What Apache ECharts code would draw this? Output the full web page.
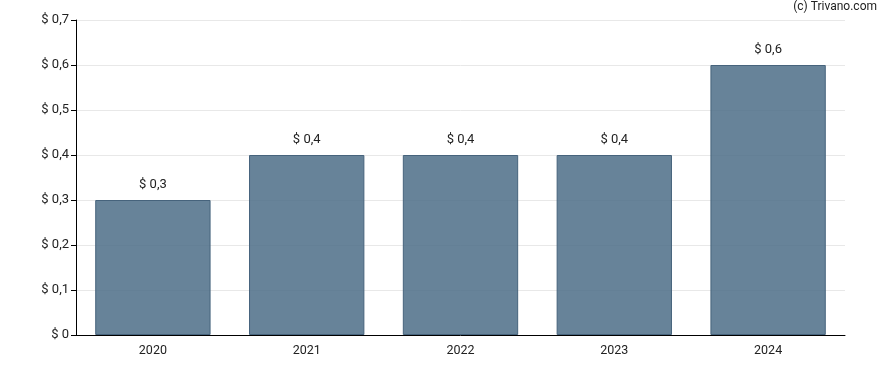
<!DOCTYPE html>
<html><head><meta charset="utf-8">
<script src="https://cdn.jsdelivr.net/npm/echarts@6/dist/echarts.min.js"></script>
<style>html,body{margin:0;padding:0;background:#fff}#c{width:888px;height:370px}</style>
</head><body><div id="c"></div>
<script>
const categories = ['2020','2021','2022','2023','2024'];
const values = [0.3, 0.4, 0.4, 0.4, 0.6];
const yTicks = [0,0.1,0.2,0.3,0.4,0.5,0.6,0.7];
const fmt = v => '$ ' + String(Math.round(v*10)/10).replace('.', ',');
const chart = echarts.init(document.getElementById('c'), null, {renderer:'canvas'});
chart.setOption({
  animation:false,
  backgroundColor:'#fff',
  textStyle:{fontFamily:'Roboto, Arial, sans-serif'},
  graphic:[{type:'text',right:11,top:1,style:{text:'(c) Trivano.com',fontSize:12,fill:'#222',fontFamily:'Roboto, Arial, sans-serif'}}],
  grid:{left:76,right:43,top:20,bottom:35,containLabel:false},
  xAxis:{type:'category',data:categories,
    axisLine:{lineStyle:{color:'#000',width:1}},
    axisTick:{alignWithLabel:true,length:5,lineStyle:{color:'#000'}},
    axisLabel:{color:'#222',fontSize:12.5,margin:9}},
  yAxis:{type:'value',min:yTicks[0],max:yTicks[yTicks.length-1],interval:0.1,
    axisLine:{show:true,lineStyle:{color:'#000'}},
    axisTick:{show:true,length:5,lineStyle:{color:'#000'}},
    axisLabel:{color:'#222',fontSize:13,margin:7,formatter:fmt},
    splitLine:{show:true,lineStyle:{color:'#e8e8e8'}}},
  series:[{type:'bar',data:values,barCategoryGap:'25%',z:1,
    itemStyle:{color:'rgba(80,113,138,0.87)',borderColor:'#46637c',borderWidth:1},
    label:{show:true,position:'top',distance:9,color:'#222',fontSize:13,formatter:p=>fmt(p.value)}}]
});
</script></body></html>
